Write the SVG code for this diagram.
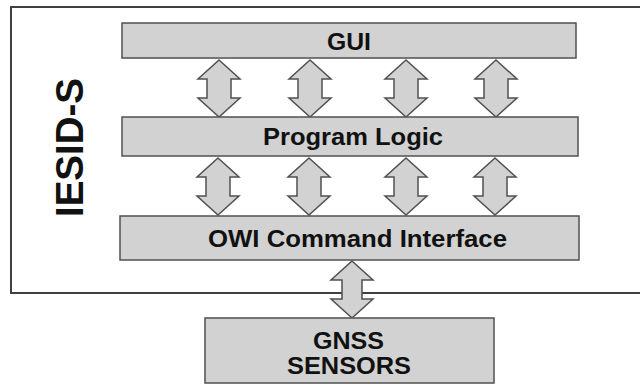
<svg xmlns="http://www.w3.org/2000/svg" xmlns:xlink="http://www.w3.org/1999/xlink" width="640" height="385" viewBox="0 0 640 385">
  <style>
    .bar { fill: #d2d2d2; stroke: #505050; stroke-width: 1.5; }
    .frame { fill: none; stroke: #404040; stroke-width: 2; }
    .arrow { fill: #d2d2d2; stroke: #505050; stroke-width: 1.5; stroke-linejoin: miter; }
    .lbl { font-family: "Liberation Sans", Arial, sans-serif; font-weight: bold; font-size: 24px; fill: #111; text-anchor: middle; }
    .title { font-family: "Liberation Sans", Arial, sans-serif; font-weight: bold; font-size: 38px; fill: #111; text-anchor: middle; }
  </style>
  <defs>
    <!-- double-headed block arrow, tip at origin, 57px tall -->
    <path id="dbl" class="arrow" d="M0,0 L21,19 L12,19 L12,38 L21,38 L0,57 L-21,38 L-12,38 L-12,19 L-21,19 Z"/>
    <path id="dblNarrow" class="arrow" d="M0,0 L21,19 L10,19 L10,38 L21,38 L0,57 L-21,38 L-10,38 L-10,19 L-21,19 Z"/>
  </defs>
  <rect width="640" height="385" fill="#ffffff"/>

  <g id="iesid-s">
    <path class="frame" d="M660,7 L11,7 L11,293 L660,293"/>
    <text class="title" transform="translate(83,147.5) rotate(-90)" textLength="139" lengthAdjust="spacingAndGlyphs">IESID-S</text>
  </g>

  <g id="connectors">
    <use xlink:href="#dbl" x="219" y="60"/>
    <use xlink:href="#dbl" x="310" y="60"/>
    <use xlink:href="#dbl" x="406" y="60"/>
    <use xlink:href="#dbl" x="496" y="60"/>
    <use xlink:href="#dbl" x="218" y="158"/>
    <use xlink:href="#dbl" x="309" y="158"/>
    <use xlink:href="#dbl" x="406" y="158"/>
    <use xlink:href="#dbl" x="495" y="158"/>
    <use xlink:href="#dblNarrow" x="352" y="261"/>
  </g>

  <g id="gui">
    <rect class="bar" x="122" y="23" width="454" height="35"/>
    <text class="lbl" x="349" y="50" textLength="44" lengthAdjust="spacingAndGlyphs">GUI</text>
  </g>

  <g id="program-logic">
    <rect class="bar" x="122" y="117" width="456" height="39"/>
    <text class="lbl" x="353" y="145" textLength="180" lengthAdjust="spacingAndGlyphs">Program Logic</text>
  </g>

  <g id="owi-command-interface">
    <rect class="bar" x="120" y="216" width="459" height="44"/>
    <text class="lbl" x="357.5" y="247" textLength="299" lengthAdjust="spacingAndGlyphs">OWI Command Interface</text>
  </g>

  <g id="gnss-sensors">
    <rect class="bar" x="205" y="318" width="289" height="65"/>
    <text class="lbl" x="348.5" y="349" textLength="71" lengthAdjust="spacingAndGlyphs">GNSS</text>
    <text class="lbl" x="349" y="374" textLength="124" lengthAdjust="spacingAndGlyphs">SENSORS</text>
  </g>
</svg>
